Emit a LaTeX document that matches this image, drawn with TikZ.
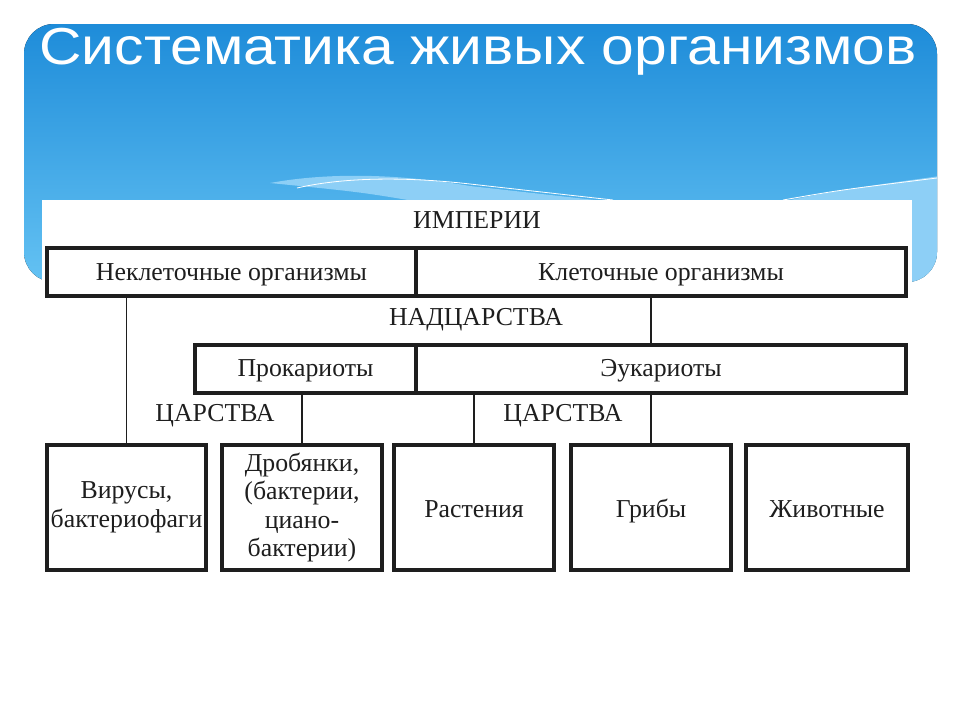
\documentclass[tikz,border=0pt]{standalone}
\usepackage{fontspec}
\setmainfont{Liberation Serif}
\newfontfamily\titlefont{Liberation Sans}
\usepackage{graphicx}
\usetikzlibrary{positioning}
\definecolor{skytop}{HTML}{1E8CD9}
\definecolor{skybot}{HTML}{64C2F3}
\definecolor{skywave}{HTML}{8DCFF6}
\definecolor{ink}{HTML}{1E1E1E}
\tikzset{
  cell/.style={draw=ink, line width=4pt, inner sep=2pt, align=center, text=ink,
    font=\fontsize{25.8}{28.5}\selectfont},
  rowcell/.style={cell, minimum height=48pt, text height=16pt, text depth=0pt},
  kingdom/.style={cell, minimum height=125pt, minimum width=160pt},
  single/.style={text height=19pt, text depth=0pt},
  level/.style={text=ink, font=\fontsize{25.8}{28.5}\selectfont},
  link/.style={draw=ink, line width=1.6pt}
}
\begin{document}
\begin{tikzpicture}[x=1pt,y=-1pt]
        \useasboundingbox (0,0) rectangle (960,720);
        \fill[top color=skytop, bottom color=skybot, rounded corners=30pt] (24,24) rectangle (937,282);
        \begin{scope}
          \clip[rounded corners=30pt] (24,24) rectangle (937,282);
          \fill[skywave] (270,183) .. controls (330,172) and (400,174) .. (470,186) -- (613,202) -- (420,202) .. controls (360,192) .. (270,183);
          \draw[white, line width=0.8pt] (297,188) .. controls (340,178) and (400,176) .. (470,184) -- (613,200);
          \fill[skywave] (780,202) .. controls (840,190) .. (940,176) -- (940,290) -- (880,290) -- cycle;
          \draw[white, line width=0.8pt] (783,200) .. controls (840,190) .. (937,178);
        \end{scope}
        \node[anchor=base, text=white] (title) at (478,64)
          {\resizebox{877pt}{\height}{\titlefont\fontsize{52}{60}\selectfont Систематика живых организмов}};
        \fill[white] (42,200) rectangle (912,720);

        \node[level] (imp) at (477,220) {ИМПЕРИИ};
        \node[rowcell, minimum width=369pt] (neklet) at (231.5,272) {Неклеточные организмы};
        \node[rowcell, minimum width=490pt] (klet) at (661,272) {Клеточные организмы};
        \node[level] (nadc) at (476,320) {НАДЦАРСТВА};
        \node[rowcell, minimum width=221pt] (prok) at (305.5,368.5) {Прокариоты};
        \node[rowcell, minimum width=490pt] (eukar) at (661,368.5) {Эукариоты};
        \node[level] (carL) at (215,416) {ЦАРСТВА};
        \node[level] (carR) at (563,416) {ЦАРСТВА};

        \node[kingdom, minimum width=159pt] (virus) at (126.5,507.5) {Вирусы,\\бактериофаги};
        \node[kingdom] (drob) at (302,507.5) {Дробянки,\\(бактерии,\\циано-\\бактерии)};
        \node[kingdom, single] (rast) at (474,507.5) {Растения};
        \node[kingdom, single] (grib) at (651,507.5) {Грибы};
        \node[kingdom, single, minimum width=162pt] (zhiv) at (827,507.5) {Животные};

        \draw[link] (neklet.south -| virus.north) -- (virus.north);
        \draw[link] (klet.south -| grib.north) -- (eukar.north -| grib.north);
        \draw[link] (prok.south -| drob.north) -- (drob.north);
        \draw[link] (eukar.south -| rast.north) -- (rast.north);
        \draw[link] (eukar.south -| grib.north) -- (grib.north);
\end{tikzpicture}
\end{document}
